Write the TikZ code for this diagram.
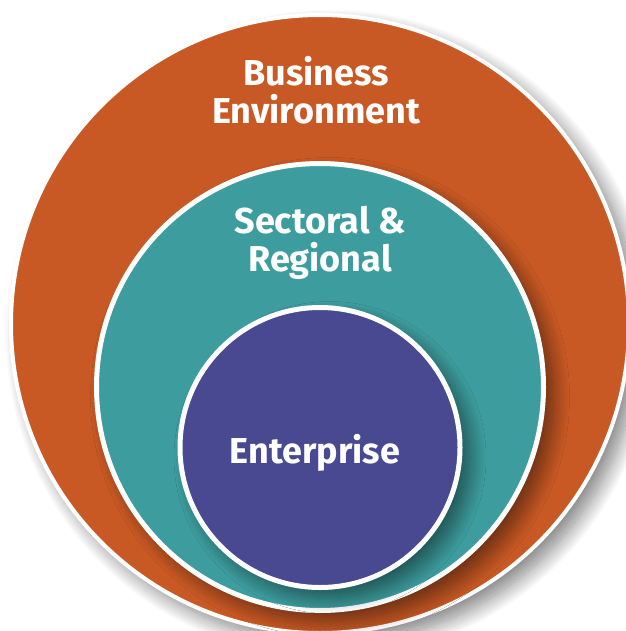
\documentclass[tikz,border=0pt]{standalone}
\usepackage{fontspec}
\setmainfont{Fira Sans}
\usetikzlibrary{shadows.blur}
\definecolor{bizorange}{RGB}{201,89,36}
\definecolor{sectteal}{RGB}{61,157,158}
\definecolor{entpurple}{RGB}{73,73,146}

\tikzset{
  ring/.style={circle, draw=white, inner sep=0pt,
    blur shadow={shadow xshift=10pt, shadow yshift=-10pt, shadow blur radius=16pt,
      shadow blur steps=24, shadow opacity=50}},
  ringtext/.style={text=white, inner sep=0pt, align=center,
    font=\bfseries\fontsize{36}{38}\selectfont}
}

\begin{document}
\begin{tikzpicture}[x=1pt,y=-1pt]
  \useasboundingbox (0,0) rectangle (625,631);

  \node [ring, fill=bizorange, line width=4pt, minimum size=618pt] (business) at (320,324) {};
  \node [ring, fill=sectteal, line width=5pt, minimum size=447pt] (sector) at (320,387) {};
  \node [ring, fill=entpurple, line width=5pt, minimum size=280pt] (enterprise) at (320,447.5) {};

  \node [ringtext] (businesstext) at (316,90) {Business\\Environment};
  \node [ringtext] (sectortext) at (320,243) {Sectoral \&\\Regional};
  \node [ringtext] (enterprisetext) at (315,453) {Enterprise};

\end{tikzpicture}
\end{document}
